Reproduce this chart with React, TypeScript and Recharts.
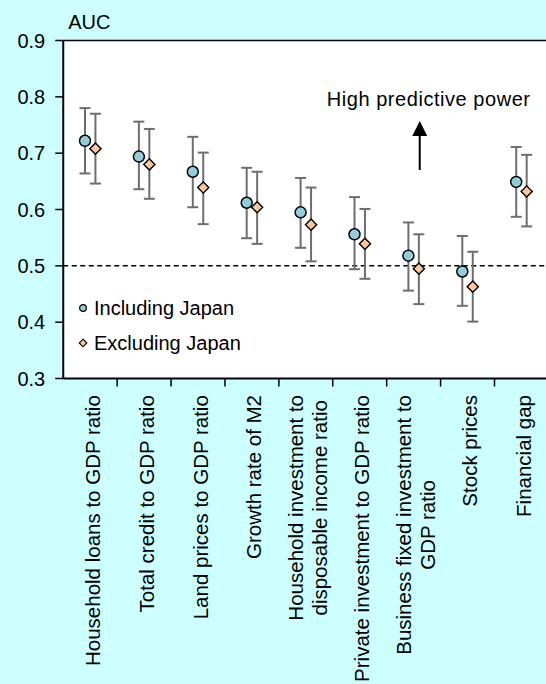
import React from 'react';
import {
  ScatterChart,
  Scatter,
  XAxis,
  YAxis,
  ErrorBar,
  ReferenceLine,
  CartesianGrid,
  Legend,
} from 'recharts';

// Category labels (each entry = lines of the label)
const categoryLines: string[][] = [
  ['Household loans to GDP ratio'],
  ['Total credit to GDP ratio'],
  ['Land prices to GDP ratio'],
  ['Growth rate of M2'],
  ['Household investment to', 'disposable income ratio'],
  ['Private investment to GDP ratio'],
  ['Business fixed investment to', 'GDP ratio'],
  ['Stock prices'],
  ['Financial gap'],
];

// AUC including Japan
const inclAuc = [0.722, 0.694, 0.667, 0.612, 0.595, 0.556, 0.518, 0.49, 0.649];
const inclLow = [0.664, 0.636, 0.604, 0.549, 0.532, 0.494, 0.456, 0.429, 0.587];
const inclHigh = [0.78, 0.756, 0.729, 0.674, 0.656, 0.622, 0.577, 0.553, 0.711];

// AUC excluding Japan
const exclAuc = [0.708, 0.68, 0.639, 0.604, 0.573, 0.539, 0.495, 0.463, 0.632];
const exclLow = [0.646, 0.619, 0.574, 0.539, 0.508, 0.477, 0.432, 0.401, 0.57];
const exclHigh = [0.77, 0.743, 0.701, 0.667, 0.639, 0.601, 0.556, 0.525, 0.697];

const yTicks = [0.3, 0.4, 0.5, 0.6, 0.7, 0.8, 0.9];

const FONT = '"Liberation Sans", Arial, sans-serif';
const LABEL_SIZE = 20.5;
const DODGE = 0.097; // side-by-side offset within a category
const INCL_FILL = '#92cddc';
const EXCL_FILL = '#fcc79a';
const ERR_COLOR = '#6e6e6e';

const buildSeries = (vals: number[], lo: number[], hi: number[], shift: number) =>
  vals.map((v, i) => ({ x: i + 0.5 + shift, y: v, err: [v - lo[i], hi[i] - v] }));

const inclData = buildSeries(inclAuc, inclLow, inclHigh, -DODGE);
const exclData = buildSeries(exclAuc, exclLow, exclHigh, DODGE);

// label ticks at category centres, tick marks at category boundaries
const xTicks = [
  ...categoryLines.map((_, i) => i + 0.5),
  ...categoryLines.slice(1).map((_, i) => i + 1),
].sort((a, b) => a - b);

let ctx: CanvasRenderingContext2D | null = null;
const measure = (s: string) => {
  if (!ctx) ctx = document.createElement('canvas').getContext('2d');
  if (!ctx) return s.length * LABEL_SIZE * 0.5;
  ctx.font = `${LABEL_SIZE}px ${FONT}`;
  return ctx.measureText(s).width;
};

const CategoryTick = (props: any) => {
  const { x, y, payload } = props;
  const v = payload.value as number;
  if (Number.isInteger(v)) {
    return <line x1={x} x2={x} y1={y - 8} y2={y} stroke="#000" strokeWidth={1.5} />;
  }
  const lines = categoryLines[Math.round(v - 0.5)];
  const block = Math.max(...lines.map(measure));
  const top = y + 8.5;
  return (
    <g transform={`translate(${x},${top}) rotate(-90)`}>
      {lines.map((l, k) => (
        <text
          key={k}
          x={-block / 2}
          y={9.5 + (k - (lines.length - 1) / 2) * 24}
          textAnchor="middle"
          fontSize={LABEL_SIZE}
          fontFamily={FONT}
          fill="#000"
        >
          {l}
        </text>
      ))}
    </g>
  );
};

const CircleDot = (p: any) => (
  <circle cx={p.cx} cy={p.cy} r={5.5} fill={INCL_FILL} stroke="#000" strokeWidth={1.5} />
);

const DiamondDot = (p: any) => {
  const s = 5.6;
  return (
    <polygon
      points={`${p.cx},${p.cy - s} ${p.cx + s},${p.cy} ${p.cx},${p.cy + s} ${p.cx - s},${p.cy}`}
      fill={EXCL_FILL}
      stroke="#000"
      strokeWidth={1.4}
    />
  );
};

const Arrow = (p: any) => {
  const { x1, y1, x2, y2 } = p;
  const head = 15;
  return (
    <g>
      <line x1={x1} y1={y1} x2={x2} y2={y2 + head - 1} stroke="#000" strokeWidth={2} />
      <polygon points={`${x2},${y2} ${x2 - 7.5},${y2 + head} ${x2 + 7.5},${y2 + head}`} fill="#000" />
      <text x={x2 - 93} y={y2 - 15.5} fontSize={20} fontFamily={FONT} fill="#000" letterSpacing={0.55}>
        High predictive power
      </text>
    </g>
  );
};

const AucLabel = (p: any) => {
  const vb = p.viewBox || { x: 0, y: 0 };
  return (
    <text x={vb.x + 5} y={vb.y - 12} fontSize={20} fontFamily={FONT} fill="#000">
      AUC
    </text>
  );
};

const LegendBox = () => (
  <div style={{ fontFamily: FONT, fontSize: 20, color: '#000' }}>
    <div style={{ display: 'flex', alignItems: 'center', height: 35 }}>
      <svg width={12} height={12}>
        <circle cx={6} cy={6} r={3.4} fill={INCL_FILL} stroke="#000" strokeWidth={1.2} />
      </svg>
      <span style={{ marginLeft: 5.5 }}>Including Japan</span>
    </div>
    <div style={{ display: 'flex', alignItems: 'center', height: 35 }}>
      <svg width={12} height={12}>
        <polygon points="6,2.2 9.8,6 6,9.8 2.2,6" fill={EXCL_FILL} stroke="#000" strokeWidth={1.1} />
      </svg>
      <span style={{ marginLeft: 5.5 }}>Excluding Japan</span>
    </div>
  </div>
);

const App: React.FC = () => {
  return (
    <div
      style={{
        position: 'absolute',
        left: 0,
        top: 0,
        width: 546,
        height: 684,
        overflow: 'hidden',
        background: '#ccffff',
      }}
    >
      <ScatterChart
        width={560}
        height={684}
        margin={{ top: 40.5, right: 11.6, bottom: 0, left: 0 }}
        style={{ fontFamily: FONT }}
      >
        <CartesianGrid fill="#fff" horizontal={false} vertical={false} stroke="none" />
        <XAxis
          type="number"
          dataKey="x"
          domain={[0, 9]}
          ticks={xTicks}
          interval={0}
          height={305.5}
          tickSize={8}
          tickMargin={0}
          tickLine={false}
          axisLine={{ stroke: '#000', strokeWidth: 2 }}
          tick={<CategoryTick />}
        />
        <YAxis
          type="number"
          dataKey="y"
          domain={[0.3, 0.9]}
          ticks={yTicks}
          interval={0}
          width={63.25}
          tickSize={8}
          tickMargin={10}
          tickFormatter={(v: number) => v.toFixed(1)}
          axisLine={{ stroke: '#000', strokeWidth: 2 }}
          tickLine={{ stroke: '#000', strokeWidth: 1.5 }}
          tick={{ fill: '#000', fontSize: 20, fontFamily: FONT }}
        />
        <ReferenceLine y={0.9} stroke="#000" strokeWidth={1.5} label={<AucLabel />} />
        <ReferenceLine y={0.5} stroke="#000" strokeWidth={1.5} strokeDasharray="5 3.5" />
        <ReferenceLine
          segment={[
            { x: 6.613, y: 0.67 },
            { x: 6.613, y: 0.757 },
          ]}
          shape={<Arrow />}
        />
        <Scatter name="Including Japan" data={inclData} shape={<CircleDot />} isAnimationActive={false}>
          <ErrorBar
            dataKey="err"
            direction="y"
            width={5.5}
            stroke={ERR_COLOR}
            strokeWidth={2}
            isAnimationActive={false}
          />
        </Scatter>
        <Scatter name="Excluding Japan" data={exclData} shape={<DiamondDot />} isAnimationActive={false}>
          <ErrorBar
            dataKey="err"
            direction="y"
            width={5.5}
            stroke={ERR_COLOR}
            strokeWidth={2}
            isAnimationActive={false}
          />
        </Scatter>
        <Legend
          layout="vertical"
          align="center"
          verticalAlign="middle"
          wrapperStyle={{ left: 76.5, top: 290.5, width: 'auto', height: 'auto' }}
          content={<LegendBox />}
        />
      </ScatterChart>
    </div>
  );
};

export default App;
